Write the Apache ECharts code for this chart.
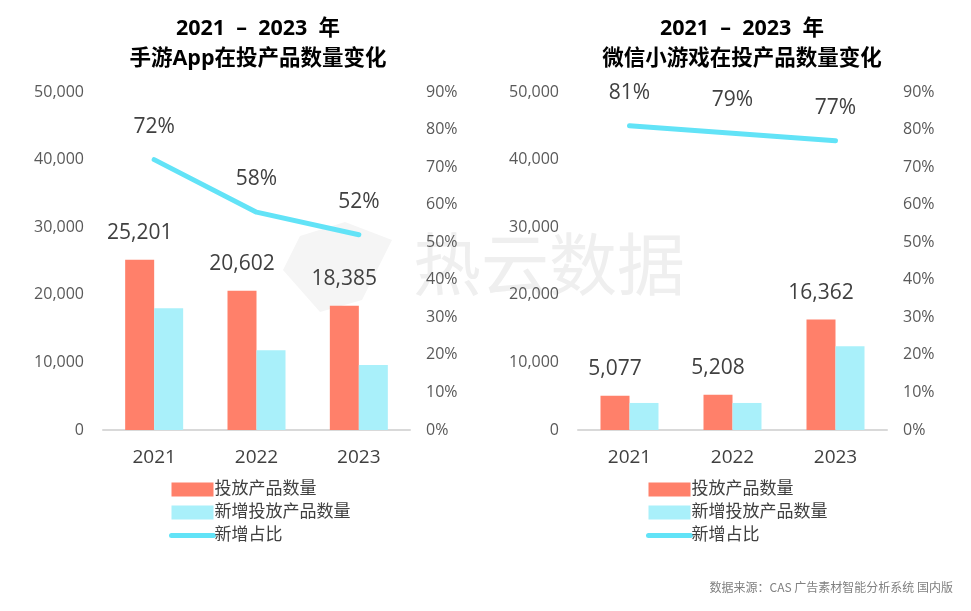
<!DOCTYPE html>
<html><head><meta charset="utf-8">
<script src="https://cdn.jsdelivr.net/npm/echarts@6/dist/echarts.min.js"></script>
<style>html,body{margin:0;padding:0;background:#fff}#c{width:971px;height:611px}</style>
</head><body><div id="c"></div>
<script>
const years = ['2021', '2022', '2023'];
const appTotal = [25201, 20602, 18385];
const appNew = [18000, 11800, 9600];
const appRatio = [72, 58, 52];
const miniTotal = [5077, 5208, 16362];
const miniNew = [4000, 4000, 12400];
const miniRatio = [81, 79, 77];
const leftTicks = [0, 10000, 20000, 30000, 40000, 50000];
const rightTicks = [0, 10, 20, 30, 40, 50, 60, 70, 80, 90];
const names = ['投放产品数量', '新增投放产品数量', '新增占比'];
const titles = ['2021  –  2023  年\n手游App在投产品数量变化', '2021  –  2023  年\n微信小游戏在投产品数量变化'];

const FF = "'Open Sans','Noto Sans CJK SC',sans-serif";
const C_OR = '#FF806A', C_CY = '#A9F0FA', C_LN = '#62E3F7';
const chart = echarts.init(document.getElementById('c'));
const grids = [{left: 103, right: 561, top: 92, bottom: 181}, {left: 578, right: 84, top: 92, bottom: 181}];
const fmt = v => v.toLocaleString('en-US');
const xAxis = [], yAxis = [], series = [], legend = [], title = [];
[[appTotal, appNew, appRatio], [miniTotal, miniNew, miniRatio]].forEach((d, i) => {
  xAxis.push({type: 'category', gridIndex: i, data: years,
    axisLine: {lineStyle: {color: '#d9d9d9', width: 2}}, axisTick: {show: false},
    axisLabel: {color: '#404040', fontSize: 19, fontFamily: FF, margin: 18}});
  yAxis.push({type: 'value', gridIndex: i, min: leftTicks[0], max: leftTicks[leftTicks.length - 1], interval: 10000,
    splitLine: {show: false}, axisLine: {show: false}, axisTick: {show: false},
    axisLabel: {color: '#595959', fontSize: 16, fontFamily: FF, margin: 19, formatter: v => fmt(v)}});
  yAxis.push({type: 'value', gridIndex: i, position: 'right', min: rightTicks[0], max: rightTicks[rightTicks.length - 1], interval: 10,
    splitLine: {show: false}, axisLine: {show: false}, axisTick: {show: false},
    axisLabel: {color: '#595959', fontSize: 16, fontFamily: FF, margin: 16, formatter: '{value}%'}});
  series.push({name: names[0], type: 'bar', xAxisIndex: i, yAxisIndex: i * 2, data: d[0], barWidth: 29, barGap: '0%',
    itemStyle: {color: C_OR},
    label: {show: true, position: 'top', distance: 16, color: '#404040', fontSize: 21, fontFamily: FF, formatter: p => fmt(p.value)}});
  series.push({name: names[1], type: 'bar', xAxisIndex: i, yAxisIndex: i * 2, data: d[1], barWidth: 29, barGap: '0%',
    itemStyle: {color: C_CY}});
  series.push({name: names[2], type: 'line', xAxisIndex: i, yAxisIndex: i * 2 + 1, data: d[2],
    symbol: 'circle', symbolSize: 1, showSymbol: true,
    lineStyle: {color: C_LN, width: 5, cap: 'round'}, itemStyle: {color: 'rgba(0,0,0,0)'},
    label: {show: true, position: 'top', distance: 22, color: '#404040', fontSize: 21, fontFamily: FF, formatter: '{c}%'}});
  legend.push({orient: 'vertical', left: i === 0 ? 164 : 641, top: 476, itemWidth: 42, itemHeight: 14, itemGap: 6,
    data: [{name: names[0], icon: 'rect'}, {name: names[1], icon: 'rect'},
           {name: names[2], itemStyle: {color: 'rgba(0,0,0,0)'}, lineStyle: {width: 5, cap: 'round', color: C_LN}}],
    textStyle: {color: '#404040', fontSize: 17, fontFamily: FF, padding: [0, 0, 0, -4]}, selectedMode: false});
  title.push({text: titles[i], left: i === 0 ? 253 : 737, top: 9, textAlign: 'center',
    textStyle: {fontSize: 21.5, fontWeight: 'bold', color: '#000', lineHeight: 30, fontFamily: FF}});
});
chart.setOption({
  animation: false,
  title: title,
  grid: grids, xAxis: xAxis, yAxis: yAxis, series: series, legend: legend,
  graphic: [
    {type: 'polygon', z: -1, shape: {points: [[300, 236], [345, 222], [392, 240], [362, 300], [320, 312], [283, 270]]}, style: {fill: '#f5f5f5'}},
    {type: 'text', left: 413, top: 230, z: -1, style: {text: '热云数据', fontSize: 68, fill: '#efefef', fontFamily: "'Noto Sans CJK SC'"}},
    {type: 'text', right: 18, top: 581, style: {text: '数据来源：CAS 广告素材智能分析系统 国内版', fontSize: 12, fill: '#808080', fontFamily: "'Noto Sans CJK SC'"}}
  ]
});
</script></body></html>
